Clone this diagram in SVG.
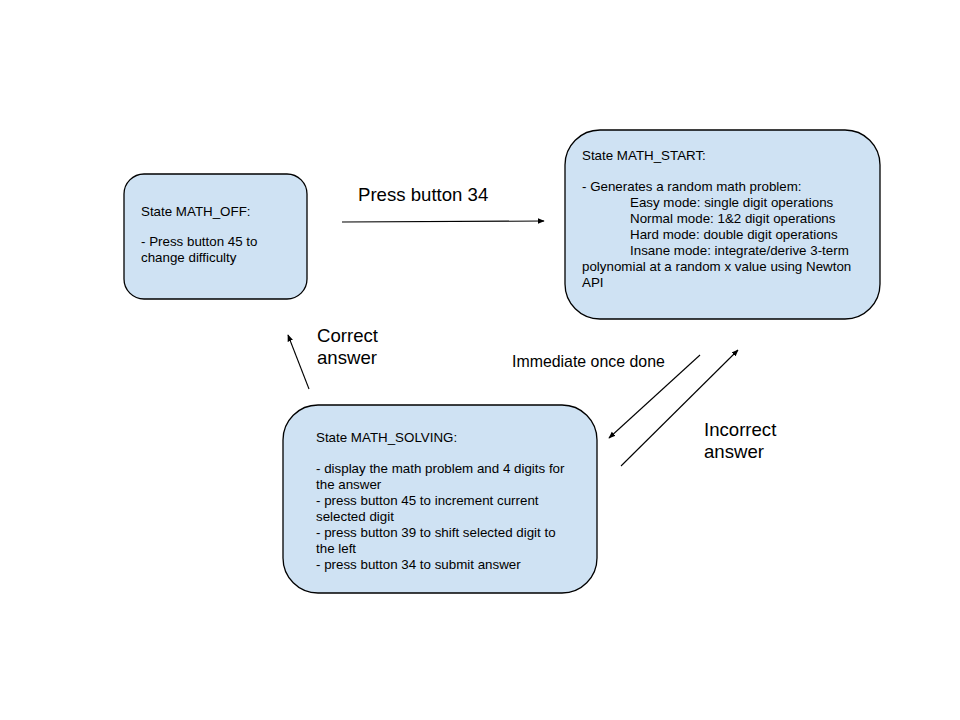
<svg xmlns="http://www.w3.org/2000/svg" width="960" height="720" viewBox="0 0 960 720">
<style>
.box{fill:#cfe2f3;stroke:#000;stroke-width:1.3}
.t{font-family:"Liberation Sans",Arial,sans-serif;font-size:13.35px;fill:#000}
.lbl{font-family:"Liberation Sans",Arial,sans-serif;font-size:18.6px;fill:#000}
.lbs{font-family:"Liberation Sans",Arial,sans-serif;font-size:15.9px;fill:#000}
.c{stroke:#000;stroke-width:1.1;fill:none;marker-end:url(#ah)}
</style>
<defs>
<marker id="ah" viewBox="0 0 10 10" refX="9" refY="5" markerWidth="7" markerHeight="7" markerUnits="userSpaceOnUse" orient="auto">
<path d="M0,1 L10,5 L0,9 z" fill="#000"/>
</marker>
</defs>
<rect width="960" height="720" fill="#fff"/>
<g id="math_off">
<rect class="box" x="124" y="174" width="183" height="125" rx="20"/>
<text class="t" x="141" y="216">State MATH_OFF:</text>
<text class="t" x="141" y="246">- Press button 45 to</text>
<text class="t" x="141" y="262">change difficulty</text>
</g>
<g id="math_start">
<rect class="box" x="565" y="130" width="315" height="189" rx="35"/>
<text class="t" x="582" y="160">State MATH_START:</text>
<text class="t" x="582" y="191">- Generates a random math problem:</text>
<text class="t" x="630" y="207">Easy mode: single digit operations</text>
<text class="t" x="630" y="223">Normal mode: 1&amp;2 digit operations</text>
<text class="t" x="630" y="239">Hard mode: double digit operations</text>
<text class="t" x="630" y="255">Insane mode: integrate/derive 3-term</text>
<text class="t" x="582" y="271">polynomial at a random x value using Newton</text>
<text class="t" x="582" y="287">API</text>
</g>
<g id="math_solving">
<rect class="box" x="283" y="405" width="314" height="188" rx="35"/>
<text class="t" x="316" y="442">State MATH_SOLVING:</text>
<text class="t" x="316" y="473">- display the math problem and 4 digits for</text>
<text class="t" x="316" y="489">the answer</text>
<text class="t" x="316" y="505">- press button 45 to increment current</text>
<text class="t" x="316" y="521">selected digit</text>
<text class="t" x="316" y="537">- press button 39 to shift selected digit to</text>
<text class="t" x="316" y="553">the left</text>
<text class="t" x="316" y="569">- press button 34 to submit answer</text>
</g>
<g id="connectors">
<line class="c" x1="342" y1="222" x2="544" y2="221"/>
<line class="c" x1="309" y1="389" x2="288" y2="335"/>
<line class="c" x1="700" y1="355" x2="609" y2="438"/>
<line class="c" x1="621" y1="466" x2="738" y2="350"/>
<text class="lbl" x="358" y="201">Press button 34</text>
<text class="lbl" x="317" y="342">Correct</text>
<text class="lbl" x="317" y="364">answer</text>
<text class="lbs" x="512" y="367">Immediate once done</text>
<text class="lbl" x="704" y="436">Incorrect</text>
<text class="lbl" x="704" y="458">answer</text>
</g>
</svg>
